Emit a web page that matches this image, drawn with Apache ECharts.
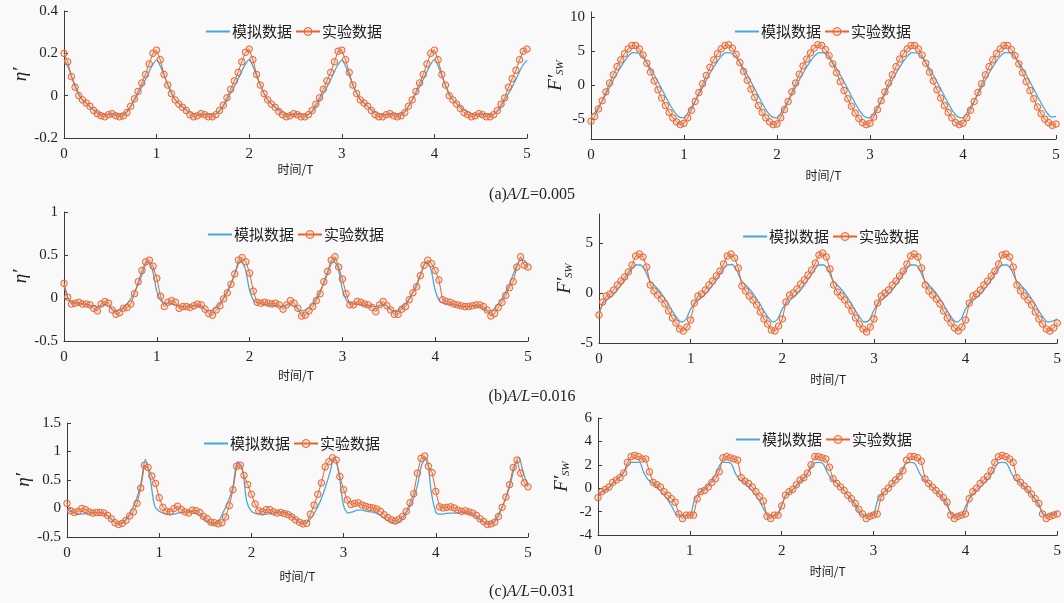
<!DOCTYPE html>
<html><head><meta charset="utf-8">
<script src="https://cdn.jsdelivr.net/npm/echarts@6/dist/echarts.min.js"></script>
<style>html,body{margin:0;padding:0;background:#f9f9f9}#c{width:1064px;height:603px}</style>
</head><body><div id="c"></div>
<script>
// ---------- data ----------
const expStep = 0.04;   // experimental sampling (T)
const simStep = 0.05;   // simulation sampling (T)
const xTicks = [0, 1, 2, 3, 4, 5];
const seriesNames = ['模拟数据', '实验数据'];
const panelTitles = ['0.005', '0.016', '0.031'];

// (a) A/L=0.005
const aEtaSim = [
 0.17,0.13,0.07,0.02,-0.02,-0.04,-0.06,-0.075,-0.085,-0.09,-0.085,-0.085,-0.09,-0.085,-0.065,-0.03,0.01,0.05,0.095,0.14,
 0.168,0.13,0.075,0.025,-0.02,-0.04,-0.06,-0.075,-0.085,-0.09,-0.088,-0.085,-0.088,-0.083,-0.062,-0.028,0.012,0.052,0.097,0.142,
 0.17,0.128,0.07,0.02,-0.02,-0.042,-0.06,-0.074,-0.086,-0.09,-0.086,-0.084,-0.09,-0.086,-0.066,-0.03,0.01,0.05,0.094,0.14,
 0.168,0.13,0.072,0.022,-0.018,-0.04,-0.058,-0.075,-0.085,-0.09,-0.087,-0.085,-0.089,-0.085,-0.064,-0.029,0.011,0.051,0.096,0.141,
 0.17,0.13,0.07,0.02,-0.02,-0.04,-0.06,-0.075,-0.085,-0.09,-0.085,-0.085,-0.09,-0.085,-0.065,-0.03,0.01,0.05,0.095,0.14,
 0.168];
const aEtaExp = [
 0.20,0.16,0.09,0.04,0.00,-0.02,-0.035,-0.05,-0.07,-0.085,-0.095,-0.10,-0.09,-0.085,-0.095,-0.10,-0.095,-0.08,-0.05,-0.015,0.02,0.06,0.10,0.15,0.20,
 0.215,0.17,0.10,0.05,0.01,-0.02,-0.04,-0.055,-0.07,-0.09,-0.10,-0.095,-0.085,-0.09,-0.10,-0.10,-0.09,-0.07,-0.045,-0.01,0.03,0.07,0.11,0.16,0.205,
 0.22,0.17,0.10,0.05,0.01,-0.02,-0.04,-0.055,-0.075,-0.09,-0.10,-0.095,-0.085,-0.09,-0.10,-0.10,-0.09,-0.07,-0.04,-0.01,0.03,0.07,0.11,0.16,0.21,
 0.215,0.17,0.11,0.05,0.01,-0.02,-0.035,-0.05,-0.07,-0.09,-0.10,-0.10,-0.09,-0.085,-0.095,-0.10,-0.095,-0.08,-0.05,-0.02,0.02,0.06,0.10,0.15,0.20,
 0.215,0.17,0.10,0.05,0.00,-0.02,-0.04,-0.06,-0.08,-0.09,-0.10,-0.095,-0.085,-0.09,-0.10,-0.10,-0.09,-0.07,-0.04,-0.01,0.04,0.08,0.12,0.17,0.21,
 0.22];
const aForceSim = [
 -4.5,-3.9,-2.8,-1.6,-0.3,1.0,2.2,3.3,4.2,4.75,4.7,4.2,3.3,2.2,1.0,-0.3,-1.6,-2.9,-4.0,-4.7,
 -4.8,-3.9,-2.8,-1.6,-0.3,1.0,2.2,3.3,4.2,4.75,4.7,4.2,3.3,2.2,1.0,-0.3,-1.6,-2.9,-4.0,-4.7,
 -4.8,-3.9,-2.8,-1.6,-0.3,1.0,2.2,3.3,4.2,4.75,4.7,4.2,3.3,2.2,1.0,-0.3,-1.6,-2.9,-4.0,-4.7,
 -4.8,-3.9,-2.8,-1.6,-0.3,1.0,2.2,3.3,4.2,4.75,4.7,4.2,3.3,2.2,1.0,-0.3,-1.6,-2.9,-4.0,-4.7,
 -4.8,-3.9,-2.8,-1.6,-0.3,1.0,2.2,3.3,4.2,4.75,4.7,4.2,3.3,2.2,1.0,-0.3,-1.6,-2.9,-4.0,-4.7,
 -4.6];
const aForceExp = [
 -5.3,-4.6,-3.5,-2.3,-1.0,0.3,1.5,2.7,3.7,4.6,5.3,5.8,5.8,5.3,4.4,3.2,1.9,0.6,-0.7,-1.9,-3.0,-4.0,-4.8,-5.4,-5.8,
 -5.6,-4.8,-3.7,-2.4,-1.1,0.2,1.4,2.6,3.7,4.6,5.3,5.8,5.9,5.4,4.5,3.3,2.0,0.7,-0.6,-1.8,-3.0,-4.0,-4.8,-5.4,-5.8,
 -5.7,-4.8,-3.6,-2.4,-1.0,0.3,1.6,2.8,3.8,4.7,5.4,5.9,5.8,5.2,4.3,3.1,1.8,0.5,-0.8,-2.0,-3.1,-4.1,-4.9,-5.5,-5.8,
 -5.6,-4.7,-3.6,-2.3,-1.0,0.3,1.5,2.7,3.8,4.6,5.3,5.8,5.8,5.3,4.4,3.2,1.9,0.6,-0.7,-1.9,-3.0,-4.0,-4.8,-5.5,-5.8,
 -5.6,-4.8,-3.7,-2.4,-1.1,0.2,1.5,2.7,3.7,4.6,5.3,5.8,5.8,5.2,4.3,3.1,1.8,0.5,-0.8,-2.0,-3.2,-4.2,-5.0,-5.5,-5.9,
 -5.7];

// (b) A/L=0.016
const bEtaSim = [
 0.15,-0.02,-0.05,-0.06,-0.07,-0.08,-0.09,-0.10,-0.09,-0.08,-0.11,-0.15,-0.14,-0.10,-0.04,0.05,0.16,0.30,0.42,0.34,
 0.08,-0.04,-0.06,-0.07,-0.08,-0.09,-0.10,-0.10,-0.09,-0.09,-0.12,-0.15,-0.14,-0.10,-0.03,0.06,0.17,0.31,0.43,0.35,
 0.09,-0.04,-0.06,-0.07,-0.08,-0.09,-0.09,-0.10,-0.08,-0.08,-0.11,-0.15,-0.14,-0.10,-0.03,0.06,0.17,0.31,0.43,0.36,
 0.10,-0.04,-0.06,-0.07,-0.08,-0.09,-0.09,-0.10,-0.09,-0.08,-0.11,-0.15,-0.14,-0.10,-0.04,0.05,0.16,0.30,0.42,0.35,
 0.09,-0.04,-0.06,-0.07,-0.08,-0.09,-0.10,-0.10,-0.09,-0.09,-0.11,-0.15,-0.15,-0.11,-0.04,0.05,0.16,0.30,0.42,0.44,
 0.38];
const bEtaExp = [
 0.17,0.01,-0.07,-0.06,-0.05,-0.07,-0.07,-0.08,-0.12,-0.15,-0.07,-0.04,-0.06,-0.14,-0.19,-0.17,-0.12,-0.11,-0.07,0.05,0.19,0.32,0.42,0.44,0.37,
 0.23,0.02,-0.10,-0.05,-0.03,-0.05,-0.12,-0.10,-0.10,-0.11,-0.09,-0.07,-0.08,-0.13,-0.18,-0.20,-0.14,-0.09,-0.01,0.06,0.16,0.28,0.44,0.47,0.42,
 0.29,0.08,-0.05,-0.06,-0.05,-0.06,-0.07,-0.06,-0.08,-0.13,-0.08,-0.03,-0.06,-0.12,-0.21,-0.20,-0.15,-0.10,-0.03,0.05,0.19,0.31,0.44,0.48,0.36,
 0.22,0.05,-0.08,-0.08,-0.04,-0.05,-0.07,-0.08,-0.11,-0.16,-0.08,-0.04,-0.09,-0.14,-0.19,-0.19,-0.13,-0.10,-0.02,0.06,0.13,0.26,0.38,0.44,0.40,
 0.32,0.21,-0.02,-0.04,-0.05,-0.07,-0.08,-0.09,-0.10,-0.10,-0.09,-0.08,-0.08,-0.10,-0.14,-0.21,-0.18,-0.11,-0.05,0.03,0.12,0.19,0.36,0.48,0.38,
 0.36];
const bForceSim = [
 -2.0,-1.0,-0.6,-0.2,0.3,0.9,1.6,2.3,2.8,2.8,2.3,1.3,0.8,0.3,-0.3,-1.0,-1.8,-2.5,-2.9,-2.6,
 -1.6,-1.0,-0.6,-0.2,0.3,0.9,1.6,2.3,2.8,2.85,2.3,1.3,0.8,0.3,-0.3,-1.0,-1.8,-2.5,-2.9,-2.6,
 -1.6,-1.0,-0.6,-0.2,0.3,0.9,1.6,2.3,2.8,2.8,2.3,1.3,0.8,0.3,-0.3,-1.0,-1.8,-2.5,-2.9,-2.7,
 -1.7,-1.0,-0.6,-0.2,0.3,0.9,1.6,2.3,2.8,2.8,2.3,1.3,0.8,0.3,-0.3,-1.0,-1.8,-2.5,-2.9,-2.6,
 -1.6,-1.0,-0.6,-0.2,0.3,0.9,1.6,2.3,2.8,2.8,2.3,1.3,0.8,0.3,-0.3,-1.0,-1.8,-2.5,-2.9,-2.8,
 -2.6];
const bForceExp = [
 -2.2,-0.9,-0.3,-0.1,0.3,0.8,1.2,1.6,2.1,2.8,3.7,3.9,3.6,2.6,0.8,0.2,-0.2,-0.6,-1.1,-1.8,-2.5,-3.0,-3.6,-3.8,-3.4,
 -2.7,-1.0,-0.3,-0.1,0.3,0.8,1.2,1.7,2.2,2.9,3.7,3.9,3.5,2.5,0.7,0.2,-0.3,-0.7,-1.2,-1.9,-2.6,-3.1,-3.7,-3.8,-3.3,
 -2.6,-0.9,-0.2,0.0,0.4,0.9,1.3,1.8,2.3,3.0,3.8,4.0,3.6,2.4,0.8,0.1,-0.3,-0.7,-1.2,-1.8,-2.5,-3.1,-3.6,-3.9,-3.4,
 -2.6,-1.0,-0.3,0.0,0.3,0.8,1.2,1.7,2.2,2.9,3.7,3.9,3.6,2.5,0.8,0.2,-0.2,-0.6,-1.1,-1.8,-2.5,-3.0,-3.5,-3.8,-3.4,
 -2.7,-1.0,-0.3,-0.1,0.3,0.8,1.2,1.7,2.2,2.9,3.8,3.9,3.6,2.6,0.8,0.2,-0.3,-0.7,-1.2,-1.9,-2.6,-3.1,-3.6,-3.8,-3.5,
 -3.0];

// (c) A/L=0.031
const cEtaSim = [
 -0.02,-0.06,-0.09,-0.10,-0.09,-0.08,-0.07,-0.07,-0.09,-0.14,-0.22,-0.27,-0.25,-0.17,-0.03,0.15,0.42,0.86,0.55,0.05,
 -0.05,-0.08,-0.10,-0.10,-0.08,-0.07,-0.06,-0.05,-0.08,-0.13,-0.20,-0.26,-0.27,-0.20,-0.05,0.13,0.38,0.82,0.72,0.12,
 -0.05,-0.09,-0.10,-0.10,-0.09,-0.08,-0.06,-0.06,-0.09,-0.14,-0.21,-0.27,-0.25,-0.16,-0.03,0.14,0.36,0.62,0.90,0.60,
 0.05,-0.08,-0.06,-0.03,-0.03,-0.05,-0.06,-0.08,-0.12,-0.18,-0.23,-0.26,-0.24,-0.15,-0.02,0.14,0.40,0.78,0.88,0.30,
 -0.06,-0.10,-0.09,-0.08,-0.08,-0.07,-0.07,-0.08,-0.11,-0.16,-0.22,-0.26,-0.26,-0.18,-0.04,0.14,0.38,0.70,0.90,0.62,
 0.40];
const cEtaExp = [
 0.09,-0.04,-0.07,-0.05,0.00,-0.02,-0.06,-0.08,-0.07,-0.07,-0.08,-0.12,-0.18,-0.25,-0.28,-0.26,-0.21,-0.13,-0.06,0.09,0.36,0.76,0.72,0.57,0.44,
 0.19,0.02,-0.05,-0.06,0.00,0.04,-0.02,-0.06,-0.08,-0.03,-0.04,-0.07,-0.14,-0.18,-0.24,-0.25,-0.27,-0.25,-0.15,0.05,0.33,0.74,0.76,0.58,0.42,
 0.25,0.08,-0.04,-0.06,-0.02,-0.02,-0.06,-0.08,-0.07,-0.09,-0.11,-0.15,-0.20,-0.24,-0.27,-0.26,-0.10,0.06,0.25,0.45,0.73,0.82,0.89,0.85,0.56,
 0.33,0.15,0.07,0.09,0.10,0.06,0.04,0.02,0.01,-0.01,-0.05,-0.11,-0.16,-0.20,-0.22,-0.19,-0.14,-0.05,0.10,0.26,0.62,0.88,0.92,0.74,0.63,
 0.30,0.03,0.01,0.02,0.03,0.01,-0.03,-0.05,-0.04,-0.06,-0.08,-0.12,-0.18,-0.23,-0.28,-0.27,-0.24,-0.14,0.02,0.20,0.42,0.72,0.85,0.62,0.45,
 0.38];
const cForceSim = [
 -0.4,-0.3,-0.1,0.3,0.7,1.1,1.6,2.2,2.2,2.2,1.3,0.7,0.4,0.0,-0.4,-0.9,-1.5,-2.2,-2.3,-2.3,
 -2.3,-1.0,-0.4,-0.1,0.3,0.8,1.5,2.2,2.2,2.1,1.2,0.7,0.4,0.0,-0.4,-1.0,-1.7,-2.3,-2.3,-2.3,
 -1.4,-0.6,-0.3,0.1,0.5,0.9,1.5,2.1,2.2,2.1,1.3,0.7,0.4,0.0,-0.4,-0.9,-1.5,-2.2,-2.3,-2.3,
 -2.2,-0.9,-0.4,-0.1,0.3,0.8,1.4,2.1,2.2,2.1,1.3,0.7,0.4,0.0,-0.4,-0.9,-1.5,-2.2,-2.3,-2.3,
 -1.6,-0.8,-0.4,0.0,0.4,0.8,1.4,2.1,2.2,2.1,1.3,0.7,0.4,0.0,-0.4,-0.9,-1.5,-2.2,-2.3,-2.2,
 -2.0];
const cForceExp = [
 -0.8,-0.3,-0.1,0.1,0.5,0.7,0.9,1.3,2.2,2.7,2.8,2.7,2.5,2.5,1.4,0.5,0.3,0.1,-0.3,-0.6,-0.9,-1.2,-2.2,-2.6,-2.3,
 -2.3,-2.3,-0.9,-0.3,-0.2,0.1,0.5,0.8,1.4,2.6,2.7,2.6,2.5,2.4,0.9,0.6,0.4,0.1,-0.3,-0.7,-1.1,-2.4,-2.6,-2.3,-2.3,
 -1.5,-0.6,-0.3,-0.1,0.3,0.7,0.9,1.3,2.0,2.7,2.7,2.6,2.5,1.8,0.8,0.4,0.1,-0.2,-0.6,-0.9,-1.3,-1.8,-2.2,-2.6,-2.4,
 -2.3,-2.2,-0.8,-0.3,0.0,0.4,0.7,1.0,1.5,2.4,2.7,2.7,2.6,2.3,0.8,0.4,0.1,-0.2,-0.5,-0.8,-1.2,-2.3,-2.6,-2.4,-2.3,
 -2.2,-0.9,-0.3,0.0,0.4,0.7,1.0,1.5,2.2,2.7,2.8,2.7,2.5,2.2,0.9,0.5,0.2,-0.1,-0.5,-0.9,-1.3,-2.2,-2.6,-2.4,-2.3,
 -2.2];

// y-axis tick labels
const yTicksAEta = [-0.2, 0, 0.2, 0.4];
const yTicksAF = [-5, 0, 5, 10];
const yTicksBEta = [-0.5, 0, 0.5, 1];
const yTicksBF = [-5, 0, 5];
const yTicksCEta = [-0.5, 0, 0.5, 1, 1.5];
const yTicksCF = [-4, -2, 0, 2, 4, 6];

// ---------- layout / style ----------
const BLUE = '#4aa7dc', ORANGE = '#e8622c';
const SERIF = '"Liberation Serif","DejaVu Serif",serif';
const CJK = '"Noto Sans CJK SC","Noto Sans",sans-serif';
const ETA = 'η′';
const FSW = '{f|F′}{s|SW}';
const MARKER_FILL = 'rgba(240,150,110,0.25)';

const panels = [
  {grid:{left:64,top:11,width:463,height:127}, ymin:-0.2, ymax:0.4, ticks:yTicksAEta, yname:ETA, ygap:29, xgap:25, sim:aEtaSim, exp:aEtaExp, legend:{left:200,top:19}},
  {grid:{left:591,top:12,width:465,height:127}, ymin:-7.9, ymax:10.7, ticks:yTicksAF, yname:FSW, ygap:24, xgap:30, sim:aForceSim, exp:aForceExp, legend:{left:729,top:19}},
  {grid:{left:64,top:212,width:464,height:129}, ymin:-0.5, ymax:1, ticks:yTicksBEta, yname:ETA, ygap:29, xgap:28, sim:bEtaSim, exp:bEtaExp, legend:{left:202,top:222}},
  {grid:{left:599,top:214,width:464,height:129}, ymin:-5, ymax:7.9, ticks:yTicksBF, yname:FSW, ygap:24, xgap:30, sim:bForceSim, exp:bForceExp, legend:{left:737,top:224}},
  {grid:{left:67,top:423,width:461,height:114}, ymin:-0.5, ymax:1.5, ticks:yTicksCEta, yname:ETA, ygap:34, xgap:33, sim:cEtaSim, exp:cEtaExp, legend:{left:198,top:431}},
  {grid:{left:598,top:418,width:464,height:117}, ymin:-4, ymax:6, ticks:yTicksCF, yname:FSW, ygap:26, xgap:30, sim:cForceSim, exp:cForceExp, legend:{left:730,top:427}}
];

function pts(arr, step){ return arr.map((v,i)=>[Math.round(i*step*100)/100, v]); }

const option = {
  backgroundColor:'#f9f9f9',
  animation:false,
  grid:[], xAxis:[], yAxis:[], series:[], legend:[],
  graphic:[]
};

panels.forEach((p, k) => {
  option.grid.push(Object.assign({containLabel:false}, p.grid));
  option.xAxis.push({
    type:'value', gridIndex:k, min:xTicks[0], max:xTicks[xTicks.length-1], interval:1,
    axisLine:{onZero:false, lineStyle:{color:'#3a3a3a', width:1}},
    axisTick:{inside:true, length:4, lineStyle:{color:'#3a3a3a'}},
    splitLine:{show:false},
    axisLabel:{fontFamily:SERIF, fontSize:15, color:'#222', margin:9},
    name:'时间/T', nameLocation:'middle', nameGap:p.xgap,
    nameTextStyle:{fontFamily:CJK, fontSize:12, color:'#222'}
  });
  option.yAxis.push({
    type:'value', gridIndex:k, min:p.ymin, max:p.ymax,
    axisLine:{show:true, onZero:false, lineStyle:{color:'#3a3a3a', width:1}},
    axisTick:{show:true, inside:true, length:4, customValues:p.ticks, lineStyle:{color:'#3a3a3a'}},
    splitLine:{show:false},
    axisLabel:{customValues:p.ticks, fontFamily:SERIF, fontSize:15, color:'#222', margin:6},
    name:p.yname, nameLocation:'middle', nameGap:p.ygap, nameRotate:90,
    nameTextStyle:{fontFamily:SERIF, fontStyle:'italic', fontSize:19, color:'#222',
      rich:{f:{fontFamily:SERIF, fontStyle:'italic', fontSize:19, color:'#222'},
            s:{fontFamily:SERIF, fontStyle:'italic', fontSize:11, color:'#222', padding:[9,0,0,0]}}}
  });
  option.series.push({
    name:seriesNames[0], type:'line', xAxisIndex:k, yAxisIndex:k,
    data:pts(p.sim, simStep), symbol:'none', smooth:0.3,
    lineStyle:{color:BLUE, width:1.3}, itemStyle:{color:BLUE}
  });
  option.series.push({
    name:seriesNames[1], type:'line', xAxisIndex:k, yAxisIndex:k,
    data:pts(p.exp, expStep), symbol:'circle', symbolSize:6.5, showAllSymbol:true,
    lineStyle:{color:ORANGE, width:1},
    itemStyle:{color:MARKER_FILL, borderColor:ORANGE, borderWidth:1}
  });
  option.legend.push({
    left:p.legend.left, top:p.legend.top, orient:'horizontal',
    itemWidth:24, itemHeight:10, itemGap:3,
    data:[
      {name:seriesNames[0], itemStyle:{color:'rgba(0,0,0,0)', borderColor:'rgba(0,0,0,0)', borderWidth:0}},
      {name:seriesNames[1], itemStyle:{color:MARKER_FILL, borderColor:ORANGE, borderWidth:1}}
    ],
    selectedMode:false,
    textStyle:{fontFamily:CJK, fontSize:15, color:'#222', padding:[0,0,0,-3]}
  });
});

const titleRows = [187, 389, 584];
panelTitles.forEach((val, i) => {
  option.graphic.push({
    type:'text', x:532, y:titleRows[i],
    style:{
      text:'{n|(' + 'abc'[i] + ')}{i|A/L}{n|=' + val + '}',
      textAlign:'center',
      rich:{n:{fontFamily:SERIF, fontSize:16, fill:'#222'}, i:{fontFamily:SERIF, fontStyle:'italic', fontSize:16, fill:'#222'}}
    }
  });
});

const chart = echarts.init(document.getElementById('c'), null, {renderer:'canvas'});
chart.setOption(option);
</script>
</body></html>
